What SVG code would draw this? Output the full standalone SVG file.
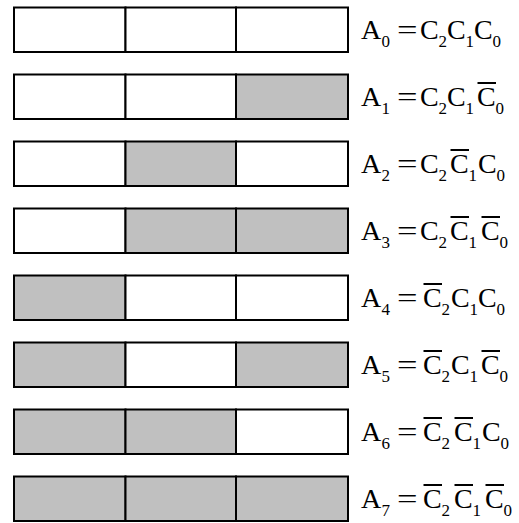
<svg xmlns="http://www.w3.org/2000/svg" width="519" height="523" viewBox="0 0 519 523">
<style>
.c{fill:#fff;stroke:#000;stroke-width:2}
.g{fill:#c0c0c0;stroke:#000;stroke-width:2}
.t{font-family:"Liberation Serif","Times New Roman",serif;font-size:28px;fill:#000}
.s{font-family:"Liberation Serif","Times New Roman",serif;font-size:17px;fill:#000}
.o{stroke:#000;stroke-width:2}
</style>
<rect width="519" height="523" fill="#fff"/>
<defs>
<text id="eq" class="t" transform="scale(1.3,1)">=</text>
</defs>
<g id="row0">
<rect class="c" x="14" y="7.5" width="111.5" height="44.5"/><rect class="c" x="125.5" y="7.5" width="110.5" height="44.5"/><rect class="c" x="236" y="7.5" width="112" height="44.5"/>
<text class="t" x="361" y="39">A</text><text class="s" x="381.5" y="47">0</text>
<use href="#eq" x="397" y="39"/>
<text class="t" x="420" y="39">C</text><text class="s" x="438.5" y="47">2</text>
<text class="t" x="447" y="39">C</text><text class="s" x="465.5" y="47">1</text>
<text class="t" x="474" y="39">C</text><text class="s" x="492.5" y="47">0</text>
</g>
<g id="row1">
<rect class="c" x="14" y="74.5" width="111.5" height="44.5"/><rect class="c" x="125.5" y="74.5" width="110.5" height="44.5"/><rect class="g" x="236" y="74.5" width="112" height="44.5"/>
<text class="t" x="361" y="106">A</text><text class="s" x="381.5" y="114">1</text>
<use href="#eq" x="397" y="106"/>
<text class="t" x="420" y="106">C</text><text class="s" x="438.5" y="114">2</text>
<text class="t" x="447" y="106">C</text><text class="s" x="465.5" y="114">1</text>
<text class="t" x="477" y="106">C</text><text class="s" x="495.5" y="114">0</text>
<line class="o" x1="477.5" y1="83" x2="496" y2="83"/>
</g>
<g id="row2">
<rect class="c" x="14" y="141.5" width="111.5" height="44.5"/><rect class="g" x="125.5" y="141.5" width="110.5" height="44.5"/><rect class="c" x="236" y="141.5" width="112" height="44.5"/>
<text class="t" x="361" y="173">A</text><text class="s" x="381.5" y="181">2</text>
<use href="#eq" x="397" y="173"/>
<text class="t" x="420" y="173">C</text><text class="s" x="438.5" y="181">2</text>
<text class="t" x="450" y="173">C</text><text class="s" x="468.5" y="181">1</text>
<text class="t" x="478" y="173">C</text><text class="s" x="496.5" y="181">0</text>
<line class="o" x1="450.5" y1="150" x2="469" y2="150"/>
</g>
<g id="row3">
<rect class="c" x="14" y="208.5" width="111.5" height="44.5"/><rect class="g" x="125.5" y="208.5" width="110.5" height="44.5"/><rect class="g" x="236" y="208.5" width="112" height="44.5"/>
<text class="t" x="361" y="240">A</text><text class="s" x="381.5" y="248">3</text>
<use href="#eq" x="397" y="240"/>
<text class="t" x="420" y="240">C</text><text class="s" x="438.5" y="248">2</text>
<text class="t" x="450" y="240">C</text><text class="s" x="468.5" y="248">1</text>
<text class="t" x="481" y="240">C</text><text class="s" x="499.5" y="248">0</text>
<line class="o" x1="450.5" y1="217" x2="469" y2="217"/>
<line class="o" x1="481.5" y1="217" x2="500" y2="217"/>
</g>
<g id="row4">
<rect class="g" x="14" y="275.5" width="111.5" height="44.5"/><rect class="c" x="125.5" y="275.5" width="110.5" height="44.5"/><rect class="c" x="236" y="275.5" width="112" height="44.5"/>
<text class="t" x="361" y="307">A</text><text class="s" x="381.5" y="315">4</text>
<use href="#eq" x="397" y="307"/>
<text class="t" x="423" y="307">C</text><text class="s" x="441.5" y="315">2</text>
<text class="t" x="451" y="307">C</text><text class="s" x="469.5" y="315">1</text>
<text class="t" x="478" y="307">C</text><text class="s" x="496.5" y="315">0</text>
<line class="o" x1="423.5" y1="284" x2="442" y2="284"/>
</g>
<g id="row5">
<rect class="g" x="14" y="342.5" width="111.5" height="44.5"/><rect class="c" x="125.5" y="342.5" width="110.5" height="44.5"/><rect class="g" x="236" y="342.5" width="112" height="44.5"/>
<text class="t" x="361" y="374">A</text><text class="s" x="381.5" y="382">5</text>
<use href="#eq" x="397" y="374"/>
<text class="t" x="423" y="374">C</text><text class="s" x="441.5" y="382">2</text>
<text class="t" x="451" y="374">C</text><text class="s" x="469.5" y="382">1</text>
<text class="t" x="481" y="374">C</text><text class="s" x="499.5" y="382">0</text>
<line class="o" x1="423.5" y1="351" x2="442" y2="351"/>
<line class="o" x1="481.5" y1="351" x2="500" y2="351"/>
</g>
<g id="row6">
<rect class="g" x="14" y="409.5" width="111.5" height="44.5"/><rect class="g" x="125.5" y="409.5" width="110.5" height="44.5"/><rect class="c" x="236" y="409.5" width="112" height="44.5"/>
<text class="t" x="361" y="441">A</text><text class="s" x="381.5" y="449">6</text>
<use href="#eq" x="397" y="441"/>
<text class="t" x="423" y="441">C</text><text class="s" x="441.5" y="449">2</text>
<text class="t" x="454" y="441">C</text><text class="s" x="472.5" y="449">1</text>
<text class="t" x="482" y="441">C</text><text class="s" x="500.5" y="449">0</text>
<line class="o" x1="423.5" y1="418" x2="442" y2="418"/>
<line class="o" x1="454.5" y1="418" x2="473" y2="418"/>
</g>
<g id="row7">
<rect class="g" x="14" y="476.5" width="111.5" height="44.5"/><rect class="g" x="125.5" y="476.5" width="110.5" height="44.5"/><rect class="g" x="236" y="476.5" width="112" height="44.5"/>
<text class="t" x="361" y="508">A</text><text class="s" x="381.5" y="516">7</text>
<use href="#eq" x="397" y="508"/>
<text class="t" x="423" y="508">C</text><text class="s" x="441.5" y="516">2</text>
<text class="t" x="454" y="508">C</text><text class="s" x="472.5" y="516">1</text>
<text class="t" x="485" y="508">C</text><text class="s" x="503.5" y="516">0</text>
<line class="o" x1="423.5" y1="485" x2="442" y2="485"/>
<line class="o" x1="454.5" y1="485" x2="473" y2="485"/>
<line class="o" x1="485.5" y1="485" x2="504" y2="485"/>
</g>
<g id="connectors"></g>
</svg>
